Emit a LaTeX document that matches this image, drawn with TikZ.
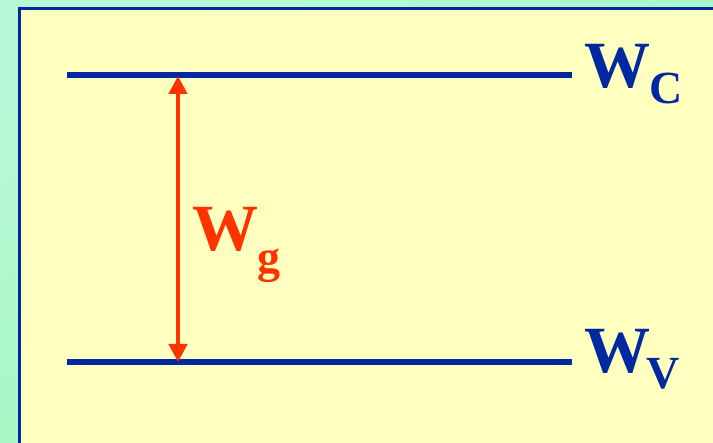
\documentclass[tikz,border=0pt]{standalone}
\usepackage{fontspec}
\setmainfont{Liberation Serif}
\usetikzlibrary{arrows.meta}
\definecolor{bgyellow}{RGB}{255,255,192}
\definecolor{lvlblue}{RGB}{0,40,160}
\definecolor{gapred}{RGB}{255,51,0}
\definecolor{mintA}{RGB}{184,248,214}
\definecolor{mintB}{RGB}{152,248,182}
\tikzset{
  level/.style={draw=lvlblue, line width=6pt},
  bigW/.style={inner sep=0pt, anchor=base west, font=\fontsize{66}{66}\bfseries\selectfont},
  subL/.style={inner sep=0pt, anchor=base west, font=\fontsize{46}{46}\bfseries\selectfont},
  gaparrow/.style={draw=gapred, line width=4.5pt, {Triangle[length=18pt,width=18pt]}-{Triangle[length=18pt,width=18pt]}}
}
\begin{document}
\begin{tikzpicture}[x=1pt,y=1pt]
\useasboundingbox (0,0) rectangle (713,443);
\shade[top color=mintA, bottom color=mintB, shading angle=30] (0,0) rectangle (713,443);
\draw[fill=bgyellow, draw=lvlblue, line width=3pt] (19.5,-10) rectangle (730,434.3);
% levels
\coordinate (c1) at (67,368);
\coordinate (c2) at (572,368);
\coordinate (v1) at (67,81);
\coordinate (v2) at (572,81);
\draw[level] (c1) -- (c2);
\draw[level] (v1) -- (v2);
% gap arrow
\coordinate (gt) at (178,367);
\coordinate (gb) at (178,81);
\draw[gaparrow] (gt) -- (gb);
% labels
\node[bigW, text=lvlblue] (wc) at (584,355) {W};
\node[subL, text=lvlblue] (wcs) at (649,339) {C};
\node[bigW, text=lvlblue] (wv) at (584,70) {W};
\node[subL, text=lvlblue] (wvs) at (646,54) {V};
\node[bigW, text=gapred] (wg) at (192,192) {W};
\node[subL, text=gapred] (wgs) at (257,170) {g};
\end{tikzpicture}
\end{document}
